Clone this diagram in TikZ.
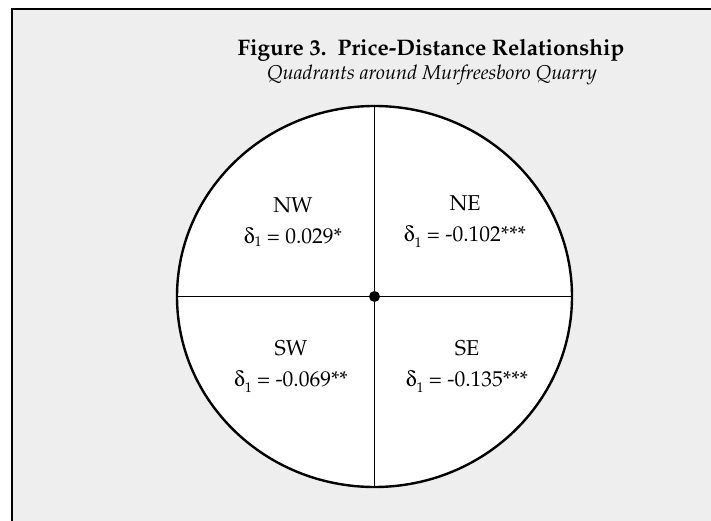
\documentclass[tikz,border=0pt]{standalone}
\usepackage[T1]{fontenc}
\usepackage{mathpazo}
\usepackage{pifont}
\usetikzlibrary{positioning,shapes.geometric}
\definecolor{PanelGray}{RGB}{238,238,238}
\newcommand{\dlt}{\Pisymbol{psy}{100}}
\newcommand{\dsub}{\dlt\raisebox{-6pt}{\fontsize{14}{14}\selectfont 1}}
\tikzset{
  heading/.style={anchor=base,font=\fontsize{22.5}{26}\selectfont\bfseries},
  subheading/.style={anchor=base,font=\fontsize{20}{24}\selectfont\itshape},
  ring/.style={ellipse,draw=black,fill=white,line width=2.4pt,inner sep=0pt,
    minimum width=395pt,minimum height=381pt},
  axis/.style={draw=black,line width=1.2pt},
  hub/.style={circle,fill=black,inner sep=0pt,minimum size=11pt},
  quad/.style={align=center,inner sep=0pt,font=\fontsize{21.5}{31}\selectfont},
}

\begin{document}
\begin{tikzpicture}[x=1pt,y=-1pt]
\useasboundingbox (0,0) rectangle (711,521);
\fill[PanelGray] (12,9.5) rectangle (711,521);
\draw[line width=2pt] (12,521) -- (12,9.5) -- (711,9.5);
\node[heading] (title) at (431,56) {Figure 3.\ \ Price-Distance Relationship};
\node[subheading] (subtitle) at (432,80) {Quadrants around Murfreesboro Quarry};
\node[ring] (ring) at (374.5,296.5) {};
\draw[axis] (ring.north) -- (ring.south);
\draw[axis] (ring.west) -- (ring.east);
\node[hub] (hub) at (ring.center) {};
\node[quad] (nw) at (293,222) {NW\\\dlt\raisebox{-3pt}{\fontsize{14}{14}\selectfont 1} = 0.029*};
\node[quad] (ne) at (465,222) {NE\\\dsub{} = -0.102***};
\node[quad] (sw) at (291,367) {SW\\\dsub{} = -0.069**};
\node[quad] (se) at (467,367) {SE\\\dsub{} = -0.135***};
\end{tikzpicture}
\end{document}
